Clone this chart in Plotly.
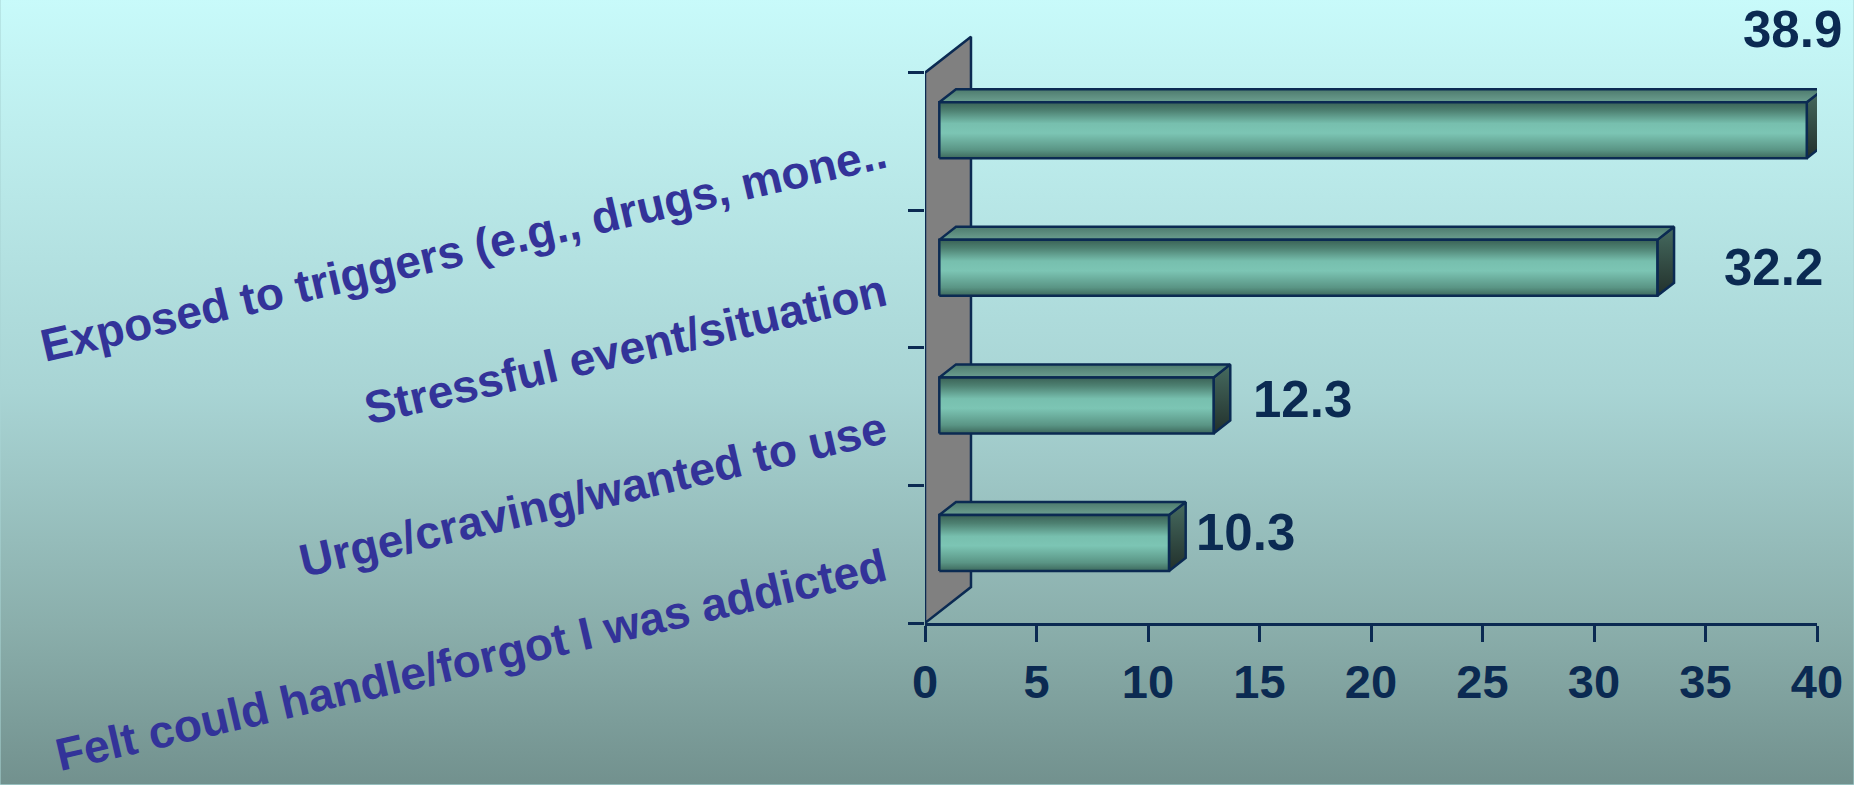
import base64
import plotly.graph_objects as go

# ---- data ----
categories = [
    "Felt could handle/forgot I was addicted",
    "Urge/craving/wanted to use",
    "Stressful event/situation",
    "Exposed to triggers (e.g., drugs, mone..",
]
values = [10.3, 12.3, 32.2, 38.9]
value_labels = ["10.3", "12.3", "32.2", "38.9"]
x_ticks = [0, 5, 10, 15, 20, 25, 30, 35, 40]

# ---- style / geometry ----
W, H = 1854, 785
ML, MR, MT, MB = 925, 36.7, 30, 161.7
plot_w = W - ML - MR
plot_h = H - MT - MB
X_RANGE = [0, 40]
CAT_PX = 137.65
Y_RANGE = [-0.5, -0.5 + plot_h / CAT_PX]
px_per_x = plot_w / (X_RANGE[1] - X_RANGE[0])

DEPTH_X = 46 / px_per_x        # wall depth in x units
DEPTH_Y = 36 / CAT_PX          # wall depth in category units
F1, F2 = 0.311, 0.674          # bar depth fractions (front, back)
HALF = 28 / CAT_PX             # bar half-height

NAVY = "#0b2a52"
LABEL_BLUE = "#333399"
OUT_W = 2.5

# label shifts in pixels (style)
label_xshift = [91, 103, 130, 0]
label_yshift = [22, 17, 12, 112]

front_scale = [[0, "#3d685c"], [0.15, "#5a9585"], [0.45, "#7cc5b4"], [0.62, "#77bfae"],
               [0.85, "#4e8172"], [1, "#3a6256"]]
top_scale = [[0, "#6c9f90"], [1, "#4d7a6d"]]
side_scale = [[0, "#22302b"], [1, "#466b60"]]

fig = go.Figure()

# dummy trace to register the category axis
fig.add_trace(go.Scatter(x=values, y=categories, mode="markers", marker=dict(opacity=0),
                         showlegend=False, hoverinfo="skip", yaxis="y"))

# back wall
fig.add_trace(go.Scatter(
    x=[0, DEPTH_X, DEPTH_X, 0, 0],
    y=[-0.5, -0.5 + DEPTH_Y, 3.5 + DEPTH_Y, 3.5, -0.5],
    fill="toself", fillcolor="#808080", mode="lines",
    line=dict(color=NAVY, width=OUT_W), showlegend=False, hoverinfo="skip", yaxis="y2"))

dfx = (F2 - F1) * DEPTH_X
dfy = (F2 - F1) * DEPTH_Y
for i, v in enumerate(values):
    x0 = F1 * DEPTH_X
    x1 = v + F1 * DEPTH_X
    y0 = i - HALF + F1 * DEPTH_Y
    y1 = i + HALF + F1 * DEPTH_Y
    # side face
    fig.add_trace(go.Scatter(
        x=[x1, x1 + dfx, x1 + dfx, x1, x1], y=[y0, y0 + dfy, y1 + dfy, y1, y0],
        fill="toself", fillgradient=dict(type="vertical", colorscale=side_scale),
        mode="lines", line=dict(color=NAVY, width=OUT_W), showlegend=False,
        hoverinfo="skip", yaxis="y2"))
    # top face
    fig.add_trace(go.Scatter(
        x=[x0, x1, x1 + dfx, x0 + dfx, x0], y=[y1, y1, y1 + dfy, y1 + dfy, y1],
        fill="toself", fillgradient=dict(type="vertical", colorscale=top_scale),
        mode="lines", line=dict(color=NAVY, width=OUT_W), showlegend=False,
        hoverinfo="skip", yaxis="y2"))
    # front face
    fig.add_trace(go.Scatter(
        x=[x0, x1, x1, x0, x0], y=[y0, y0, y1, y1, y0],
        fill="toself", fillgradient=dict(type="vertical", colorscale=front_scale),
        mode="lines", line=dict(color=NAVY, width=OUT_W), showlegend=False,
        hoverinfo="skip", yaxis="y2"))
    fig.add_annotation(x=v, y=i, xref="x", yref="y2", text=value_labels[i],
                       showarrow=False, xshift=label_xshift[i], yshift=label_yshift[i],
                       font=dict(family="Liberation Sans, Arial", size=51, color=NAVY, weight="bold"))

# background gradient
svg = ('<svg xmlns="http://www.w3.org/2000/svg" width="1854" height="785" preserveAspectRatio="none">'
       '<defs><linearGradient id="g" x1="0" y1="0" x2="0" y2="1">'
       '<stop offset="0" stop-color="#c8fafa"/>'
       '<stop offset="0.5" stop-color="#a8d4d4"/>'
       '<stop offset="0.8" stop-color="#8aaeab"/>'
       '<stop offset="1" stop-color="#72918e"/>'
       '</linearGradient></defs><rect width="1854" height="785" fill="url(#g)"/></svg>')
uri = "data:image/svg+xml;base64," + base64.b64encode(svg.encode()).decode()

fig.update_layout(
    width=W, height=H,
    margin=dict(l=ML, r=MR, t=MT, b=MB, pad=0, autoexpand=False),
    paper_bgcolor="#a8d4d4", plot_bgcolor="rgba(0,0,0,0)",
    showlegend=False,
    images=[dict(source=uri, xref="paper", yref="paper",
                 x=-ML / plot_w, y=1 + MT / plot_h,
                 sizex=W / plot_w, sizey=H / plot_h,
                 xanchor="left", yanchor="top", sizing="stretch", layer="below")],
    xaxis=dict(range=X_RANGE, tickvals=x_ticks, ticktext=[str(t) for t in x_ticks],
               showgrid=False, zeroline=False, showline=True, linecolor=NAVY,
               linewidth=OUT_W, ticks="outside", ticklen=16, tickwidth=OUT_W,
               tickcolor=NAVY, ticklabelstandoff=0, automargin=False,
               tickfont=dict(family="Liberation Sans, Arial", size=47, color=NAVY, weight="bold")),
    yaxis=dict(type="category", categoryorder="array", categoryarray=categories,
               range=Y_RANGE, tickson="boundaries", ticks="outside", ticklen=16,
               tickwidth=OUT_W, tickcolor=NAVY, showgrid=False, zeroline=False,
               showline=False, tickangle=-13, ticklabelstandoff=40, ticklabelshift=10,
               automargin=False,
               tickfont=dict(family="Liberation Sans, Arial", size=46, color=LABEL_BLUE, weight="bold")),
    yaxis2=dict(overlaying="y", range=Y_RANGE, visible=False, showgrid=False, zeroline=False,
                automargin=False),
)

fig.write_html("out.html", config={"displayModeBar": False},
               post_script="document.body.style.margin='0';document.body.style.overflow='hidden';")
